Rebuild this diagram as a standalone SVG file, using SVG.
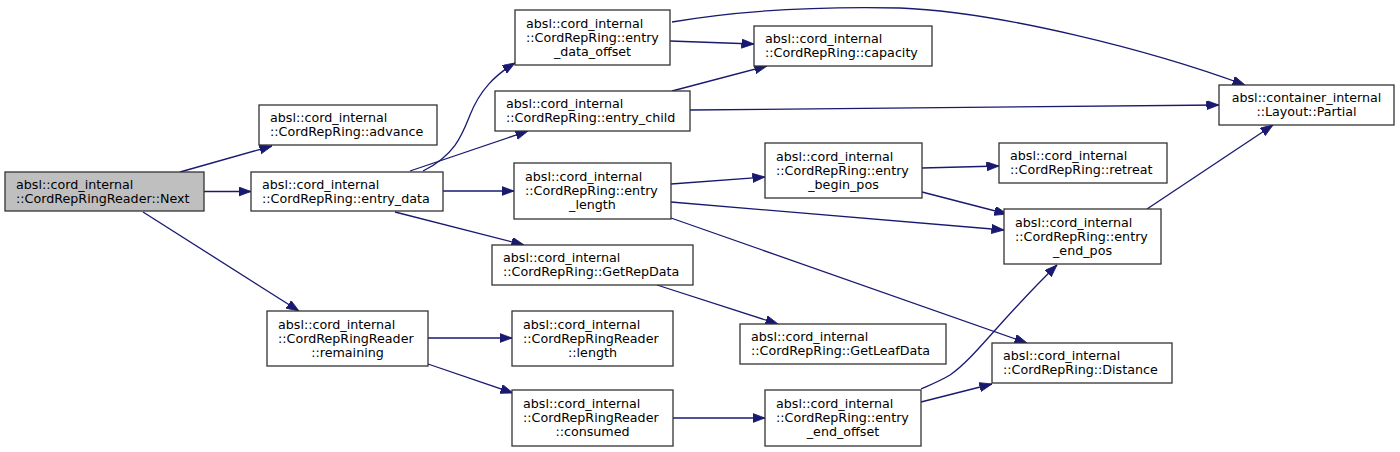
<svg xmlns="http://www.w3.org/2000/svg" width="1400" height="452" viewBox="0 0 1400 452">
<style>
.n rect{fill:#ffffff;stroke:#333333;stroke-width:1.3}
.n.cur rect{fill:#bfbfbf}
.n text{font-family:"DejaVu Sans",sans-serif;font-size:12.7px;fill:#000000}
.n text.c{text-anchor:middle}
.e path{fill:none;stroke:#191970;stroke-width:1.3;marker-end:url(#ah)}
</style>
<defs>
<marker id="ah" markerUnits="userSpaceOnUse" markerWidth="14" markerHeight="10" refX="12.5" refY="4.6" orient="auto">
<path d="M0,0 L12.5,4.6 L0,9.2 z" fill="#191970" stroke="#191970" stroke-width="0.8"/>
</marker>
</defs>
<rect width="1400" height="452" fill="#ffffff"/>
<g id="edges" class="e">
<path d="M180,172 L272,146"/>
<path d="M204,191.5 L251,191.5"/>
<path d="M143,212 L299,311"/>
<path d="M423,171 C455,155 462,135 470,115 C480,90 495,75 515,63"/>
<path d="M410,171 L528,131"/>
<path d="M443,191 L514,191"/>
<path d="M395,212 L524,245"/>
<path d="M672,22 C730,12 800,6 900,8 C1000,12 1150,50 1245,85"/>
<path d="M670,41 L754,44"/>
<path d="M672,91 L767,66"/>
<path d="M690,110 L1219,105"/>
<path d="M671,184 L765,177"/>
<path d="M671,202 L1004,230"/>
<path d="M671,218 L1027,343"/>
<path d="M657,285 L778,324"/>
<path d="M922,168 L999,166"/>
<path d="M922,192 L1007,214"/>
<path d="M1147,209 L1273,125"/>
<path d="M428,338 L512,338"/>
<path d="M428,364 L513,393"/>
<path d="M673,418 L765,418"/>
<path d="M921,389 C930,385 942,380 950,375 C975,358 1000,320 1057,265"/>
<path d="M921,402 L992,384"/>
</g>
<g id="node_next" class="n cur"><rect x="5" y="172" width="199" height="39"/><text x="16" y="188.5">absl::cord_internal</text><text x="16" y="202.5">::CordRepRingReader::Next</text></g>
<g id="node_advance" class="n"><rect x="259" y="105" width="178" height="40"/><text x="270" y="122">absl::cord_internal</text><text x="270" y="136">::CordRepRing::advance</text></g>
<g id="node_entry_data" class="n"><rect x="251" y="172" width="192" height="39"/><text x="262" y="188.5">absl::cord_internal</text><text x="262" y="202.5">::CordRepRing::entry_data</text></g>
<g id="node_entry_data_offset" class="n"><rect x="515" y="10" width="155" height="55"/><text x="526" y="27.5">absl::cord_internal</text><text x="526" y="41.5">::CordRepRing::entry</text><text class="c" x="592.5" y="55.5">_data_offset</text></g>
<g id="node_entry_child" class="n"><rect x="495" y="91" width="195" height="40"/><text x="506" y="108">absl::cord_internal</text><text x="506" y="122">::CordRepRing::entry_child</text></g>
<g id="node_capacity" class="n"><rect x="754" y="26" width="178" height="40"/><text x="765" y="43">absl::cord_internal</text><text x="765" y="57">::CordRepRing::capacity</text></g>
<g id="node_entry_length" class="n"><rect x="514" y="163" width="157" height="56"/><text x="525" y="181">absl::cord_internal</text><text x="525" y="195">::CordRepRing::entry</text><text class="c" x="592.5" y="209">_length</text></g>
<g id="node_getrepdata" class="n"><rect x="492" y="245" width="201" height="40"/><text x="503" y="262">absl::cord_internal</text><text x="503" y="276">::CordRepRing::GetRepData</text></g>
<g id="node_entry_begin_pos" class="n"><rect x="765" y="143" width="157" height="55"/><text x="776" y="160.5">absl::cord_internal</text><text x="776" y="174.5">::CordRepRing::entry</text><text class="c" x="843.5" y="188.5">_begin_pos</text></g>
<g id="node_retreat" class="n"><rect x="999" y="143" width="168" height="40"/><text x="1010" y="160">absl::cord_internal</text><text x="1010" y="174">::CordRepRing::retreat</text></g>
<g id="node_partial" class="n"><rect x="1219" y="85" width="175" height="40"/><text class="c" x="1306.5" y="102">absl::container_internal</text><text class="c" x="1306.5" y="116">::Layout::Partial</text></g>
<g id="node_entry_end_pos" class="n"><rect x="1004" y="209" width="157" height="55"/><text x="1015" y="226.5">absl::cord_internal</text><text x="1015" y="240.5">::CordRepRing::entry</text><text class="c" x="1082.5" y="254.5">_end_pos</text></g>
<g id="node_getleafdata" class="n"><rect x="740" y="324" width="206" height="40"/><text x="751" y="341">absl::cord_internal</text><text x="751" y="355">::CordRepRing::GetLeafData</text></g>
<g id="node_distance" class="n"><rect x="992" y="343" width="180" height="40"/><text x="1003" y="360">absl::cord_internal</text><text x="1003" y="374">::CordRepRing::Distance</text></g>
<g id="node_remaining" class="n"><rect x="267" y="311" width="161" height="55"/><text x="278" y="328.5">absl::cord_internal</text><text x="278" y="342.5">::CordRepRingReader</text><text class="c" x="347.5" y="356.5">::remaining</text></g>
<g id="node_length" class="n"><rect x="512" y="311" width="161" height="55"/><text x="523" y="328.5">absl::cord_internal</text><text x="523" y="342.5">::CordRepRingReader</text><text class="c" x="592.5" y="356.5">::length</text></g>
<g id="node_consumed" class="n"><rect x="512" y="390" width="161" height="56"/><text x="523" y="408">absl::cord_internal</text><text x="523" y="422">::CordRepRingReader</text><text class="c" x="592.5" y="436">::consumed</text></g>
<g id="node_entry_end_offset" class="n"><rect x="765" y="390" width="156" height="56"/><text x="776" y="408">absl::cord_internal</text><text x="776" y="422">::CordRepRing::entry</text><text class="c" x="843" y="436">_end_offset</text></g>
</svg>
